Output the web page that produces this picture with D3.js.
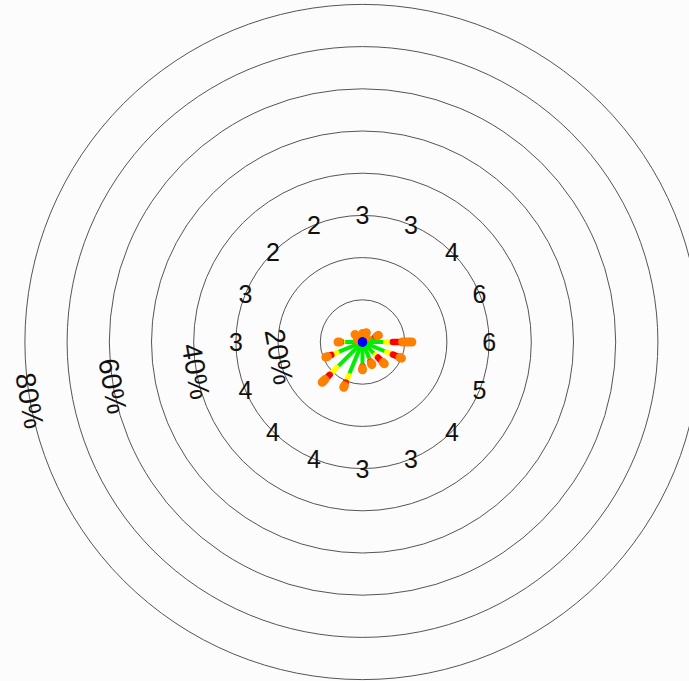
<!DOCTYPE html>
<html>
<head>
<meta charset="utf-8">
<script src="https://cdn.jsdelivr.net/npm/d3@7"></script>
<style>
  html, body { margin: 0; padding: 0; background: #fcfcfc; }
  svg text { font-family: "Liberation Sans", Arial, Helvetica, sans-serif; fill: #111; }
</style>
</head>
<body>
<div id="chart"></div>
<script>
// 16 compass sectors, clockwise from north
var directions = ["N", "NNE", "NE", "ENE", "E", "ESE", "SE", "SSE", "S", "SSW", "SW", "WSW", "W", "WNW", "NW", "NNW"];

// frequency (%) of each speed class per sector
var bin1 = [0.8, 0.8, 0.8, 0.8, 0.8, 0.8, 0.8, 0.8, 0.8, 0.8, 0.8, 0.8, 0.8, 0.8, 0.8, 0.8];
var bin2 = [0.8, 1.2, 0.2, 2.4, 4.7, 5.4, 3.5, 4.0, 4.8, 7.8, 7.8, 5.8, 3.9, 0.2, 1.3, 0.1];
var bin3 = [0.1, 0.1, 0.1, 0.1, 1.7, 1.6, 0.9, 0.2, 0.2, 1.8, 2.4, 1.4, 0.4, 0.1, 0.1, 0.1];
var bin4 = [0.1, 0.1, 0.1, 0.5, 2.3, 1.8, 1.7, 0.5, 0.5, 0.8, 1.6, 1.0, 0.4, 0.1, 0.1, 0.1];
var bin5 = [0.2, 0.2, 0.1, 0.3, 2.2, 0.4, 0.4, 0.3, 0.3, 0.4, 0.9, 0.4, 0.3, 0.1, 0.2, 0.1];

// mean speed per sector, written on the 30% ring
var meanSpeed = [3, 3, 4, 6, 6, 5, 4, 3, 3, 4, 4, 4, 3, 3, 2, 2];

// ring values
var rings = [10, 20, 30, 40, 50, 60, 70, 80];
var ringLabels = [20, 40, 60, 80];

var binColors = ["#0000ff", "#00ee00", "#ffff00", "#ff0000", "#ff7f00"];
var binWidths = [3, 4, 5.5, 6.5, 9];

var width = 689,
    height = 681,
    cx = 362.5,
    cy = 342,
    labelRing = 30,
    labelBearing = 260;

var r = d3.scaleLinear().domain([0, 80]).range([0, 337.6]);
var angle = d3.scaleBand().domain(directions).range([0, 360]);

function pt(deg, radius){
  var a = deg * Math.PI / 180;
  return [Math.sin(a) * radius, -Math.cos(a) * radius];
}

var svg = d3.select("#chart").append("svg")
    .attr("width", width)
    .attr("height", height)
  .append("g")
    .attr("transform", "translate(" + cx + ", " + cy + ")");

svg.selectAll(".ring")
    .data(rings)
  .enter().append("circle")
    .attr("class", "ring")
    .attr("r", function(d){ return r(d); })
    .style("fill", "none")
    .style("stroke", "#555")
    .style("stroke-width", 1);

// stacked paddles: green -> orange drawn outward, the calm (blue) class on top
var bins = [bin1, bin2, bin3, bin4, bin5];
var segs = [];
directions.forEach(function(dir, i){
  var start = 0;
  bins.forEach(function(b, j){
    segs.push({dir: dir, bin: j, from: start, to: start + b[i]});
    start += b[i];
  });
});
segs.sort(function(a, b){
  var ka = a.bin === 0 ? 9 : a.bin, kb = b.bin === 0 ? 9 : b.bin;
  return ka - kb;
});

svg.selectAll(".paddle")
    .data(segs)
  .enter().append("line")
    .attr("class", "paddle")
    .attr("x1", function(d){ return pt(angle(d.dir), r(d.from))[0]; })
    .attr("y1", function(d){ return pt(angle(d.dir), r(d.from))[1]; })
    .attr("x2", function(d){ return pt(angle(d.dir), r(d.to))[0]; })
    .attr("y2", function(d){ return pt(angle(d.dir), r(d.to))[1]; })
    .style("stroke", function(d){ return binColors[d.bin]; })
    .style("stroke-width", function(d){ return binWidths[d.bin]; })
    .style("stroke-linecap", "round");

svg.selectAll(".speed-label")
    .data(directions)
  .enter().append("text")
    .attr("class", "speed-label")
    .attr("x", function(d){ return pt(angle(d), r(labelRing))[0]; })
    .attr("y", function(d){ return pt(angle(d), r(labelRing))[1]; })
    .attr("dy", ".36em")
    .attr("text-anchor", "middle")
    .style("font-size", "25px")
    .text(function(d, i){ return meanSpeed[i]; });

svg.selectAll(".ring-label")
    .data(ringLabels)
  .enter().append("text")
    .attr("class", "ring-label")
    .attr("transform", function(d){
      var p = pt(labelBearing, r(d));
      return "translate(" + p[0] + "," + p[1] + ") rotate(" + (labelBearing - 180) + ")";
    })
    .attr("dy", ".36em")
    .attr("text-anchor", "middle")
    .style("font-size", "28px")
    .text(function(d){ return d + "%"; });
</script>
</body>
</html>
